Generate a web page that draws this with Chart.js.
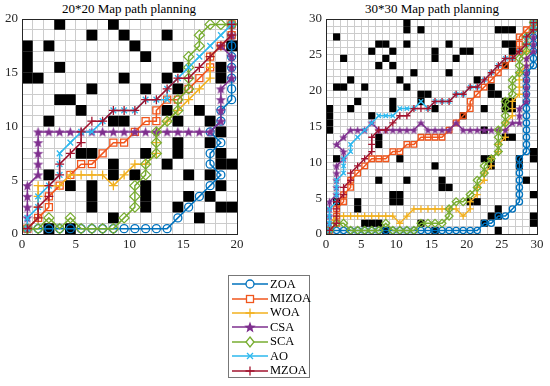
<!DOCTYPE html>
<html>
<head>
<meta charset="utf-8">
<script src="https://cdn.jsdelivr.net/npm/chart.js@4.4.1/dist/chart.umd.min.js"></script>
<style>
body{margin:0;background:#fff;width:550px;height:386px;position:relative;overflow:hidden;font-family:"Liberation Serif","Times New Roman",serif}
.ttl{position:absolute;top:1px;font-size:13px;color:#000;white-space:nowrap;transform:translateX(-50%)}
#c1{position:absolute;left:0;top:0}
#c2{position:absolute;left:296px;top:0}
#leg{position:absolute;left:228px;top:275px;width:82px;height:103px;border:1px solid #777;box-sizing:border-box;padding-top:1px;background:#fff}
.row{height:14.4px;display:flex;align-items:center;font-size:12.5px;color:#000}
.row canvas{margin-left:3px;margin-right:2px}
</style>
</head>
<body>
<div class="ttl" style="left:129px">20*20 Map path planning</div>
<div class="ttl" style="left:432px">30*30 Map path planning</div>
<canvas id="c1" width="250" height="256"></canvas>
<canvas id="c2" width="254" height="256"></canvas>
<div id="leg"></div>
<script>
// algorithms and colours
var names = ['ZOA', 'MIZOA', 'WOA', 'CSA', 'SCA', 'AO', 'MZOA'];
var colors = ['#0072BD', '#F0561D', '#F2B01E', '#7E2F8E', '#77AC30', '#2DB8EE', '#A2142F'];

// obstacle cells [col, row] (lower-left corner)
var cells20 = [[3,19],[8,19],[6,18],[9,18],[13,18],[0,17],[2,17],[10,17],[19,17],[0,16],[11,16],
  [0,15],[3,15],[14,15],[18,15],[0,14],[1,14],[9,14],[13,14],[18,14],[6,13],[11,13],[14,13],
  [3,12],[4,12],[5,11],[13,11],[16,11],[2,10],[8,10],[9,10],[14,10],[17,10],[18,9],[14,8],[17,8],
  [5,7],[6,7],[11,7],[14,7],[18,7],[8,6],[13,6],[18,6],[19,6],[2,5],[8,5],[10,5],[15,5],[17,5],
  [4,4],[6,4],[11,4],[18,4],[6,3],[11,3],[15,3],[17,3],[6,2],[11,2],[14,2],[18,2],[19,2],
  [8,1],[16,1],[2,0],[4,0]];

var cells30 = [[11,29],[11,28],[13,28],[24,28],[25,28],[26,28],[1,27],[7,26],[8,26],[11,26],[17,26],
  [25,26],[26,26],[6,25],[9,25],[15,25],[19,25],[20,25],[26,25],[2,24],[8,24],[15,24],[18,24],[25,23],
  [7,23],[9,23],[12,22],[17,22],[3,21],[10,21],[21,21],[1,20],[2,20],[5,20],[11,20],[23,20],[13,19],[14,19],
  [23,19],[24,19],[4,18],[9,18],[13,18],[25,18],[26,18],[0,17],[3,17],[9,17],[15,17],[22,17],
  [25,17],[26,17],[0,16],[6,16],[19,16],[0,15],[0,14],[22,14],[7,13],[25,13],[26,13],[7,12],
  [29,11],[1,10],[10,10],[22,10],[23,10],[27,10],[29,10],[15,9],[23,9],[27,9],[7,7],[11,7],[16,7],
  [28,7],[16,6],[17,6],[9,5],[10,5],[29,5],[1,4],[4,4],[9,4],[10,4],[20,4],[21,4],[4,3],[24,3],
  [23,2],[24,2],[29,2],[5,1],[6,1],[7,1],[13,1],[22,1],[29,1],[8,0],[15,0],[24,0]];

// paths on the 20*20 map
var zoa20 = [[0.5,0.5],[1.5,0.5],[2.5,0.5],[3.5,0.5],[4.5,0.5],[5.5,0.5],[6.5,0.5],[7.5,0.5],[8.5,0.5],
  [9.5,0.5],[10.5,0.5],[11.5,0.5],[12.5,0.5],[13.5,0.5],[14.5,1.5],[15.5,2.5],[16.5,3.5],[17.5,4.5],
  [18.5,5.5],[17.5,6.5],[17.5,7.5],[18.5,8.5],[17.5,9.5],[18.5,10.5],[18.5,11.5],[19.5,12.5],
  [19.5,13.5],[19.5,14.5],[19.5,15.5],[19.5,16.5],[19.5,17.5],[19.5,18.5],[19.5,19.5]];
var mizoa20 = [[0.5,0.5],[1.5,1.5],[2.5,2.5],[2.5,3.5],[3.5,4.5],[4.5,5.5],[5.5,6.5],[6.5,6.5],
  [7.5,7.5],[8.5,8.5],[9.5,8.5],[10.5,9.5],[11.5,10.5],[12.5,10.5],[12.5,11.5],[13.5,12.5],
  [14.5,12.5],[15.5,13.5],[16.5,14.5],[17.5,15.5],[17.5,16.5],[18.5,17.5],[19.5,18.5],[19.5,19.5]];
var woa20 = [[0.5,0.5],[1.5,1.5],[1.5,2.5],[1.5,3.5],[1.5,4.5],[2.5,4.5],[3.5,4.5],[4.5,5.5],
  [5.5,5.5],[6.5,5.5],[7.5,5.5],[8.5,4.5],[9.5,5.5],[10.5,6.5],[11.5,6.5],[12.5,7.5],[12.5,8.5],
  [12.5,9.5],[13.5,10.5],[14.5,11.5],[15.5,12.5],[16.5,13.5],[17.5,14.5],[17.5,15.5],[17.5,16.5],
  [18.5,17.5],[19.5,18.5],[19.5,19.5]];
var csa20 = [[0.5,0.5],[0.5,1.5],[0.5,2.5],[0.5,3.5],[0.5,4.5],[1.5,5.5],[1.5,6.5],[1.5,7.5],
  [1.5,8.5],[1.5,9.5],[2.5,9.5],[3.5,9.5],[4.5,9.5],[5.5,9.5],[6.5,9.5],[7.5,9.5],[8.5,9.5],
  [9.5,9.5],[10.5,9.5],[11.5,9.5],[12.5,9.5],[13.5,9.5],[14.5,9.5],[15.5,9.5],[16.5,9.5],
  [17.5,9.5],[18.5,10.5],[18.5,11.5],[18.5,12.5],[18.5,13.5],[19.5,14.5],[19.5,15.5],[19.5,16.5],
  [18.5,17.5],[19.5,18.5],[19.5,19.5]];
var sca20 = [[0.5,0.5],[1.5,0.5],[2.5,1.5],[3.5,0.5],[4.5,1.5],[5.5,0.5],[6.5,0.5],[7.5,0.5],
  [8.5,0.5],[9.5,1.5],[10.5,2.5],[10.5,3.5],[10.5,4.5],[11.5,5.5],[11.5,6.5],[12.5,7.5],[12.5,8.5],
  [12.5,9.5],[13.5,10.5],[14.5,11.5],[14.5,12.5],[15.5,13.5],[15.5,14.5],[15.5,15.5],[15.5,16.5],
  [16.5,17.5],[16.5,18.5],[17.5,19.5],[18.5,19.5],[19.5,19.5]];
var ao20 = [[0.5,0.5],[0.5,1.5],[1.5,2.5],[1.5,3.5],[2.5,4.5],[3.5,5.5],[3.5,6.5],[3.5,7.5],
  [4.5,8.5],[5.5,9.5],[6.5,9.5],[7.5,10.5],[8.5,11.5],[9.5,11.5],[10.5,11.5],[11.5,12.5],
  [12.5,12.5],[13.5,12.5],[13.5,13.5],[14.5,14.5],[15.5,15.5],[16.5,16.5],[17.5,17.5],[18.5,18.5],
  [19.5,19.5]];
var mzoa20 = [[0.5,0.5],[1.5,1.5],[1.5,2.5],[2.5,3.5],[2.5,4.5],[3.5,5.5],[3.5,6.5],[4.5,7.5],
  [5.5,8.5],[5.5,9.5],[6.5,10.5],[7.5,10.5],[8.5,11.5],[9.5,11.5],[10.5,11.5],[11.5,12.5],
  [12.5,12.5],[13.5,13.5],[14.5,14.5],[15.5,14.5],[16.5,15.5],[17.5,16.5],[18.5,17.5],[19.5,18.5],
  [19.5,19.5]];

// paths on the 30*30 map
var zoa30 = [[0.5,0.5],[1.5,0.5],[2.5,0.5],[3.5,0.5],[4.5,0.5],[5.5,0.5],[6.5,0.5],[7.5,0.5],[8.5,0.5],
  [9.5,0.5],[10.5,0.5],[11.5,0.5],[12.5,0.5],[13.5,0.5],[14.5,0.5],[15.5,0.5],[16.5,0.5],[17.5,0.5],
  [18.5,0.5],[19.5,0.5],[20.5,0.5],[21.5,0.5],[22.5,1.5],[23.5,1.5],[24.5,2.5],[25.5,2.5],[26.5,3.5],
  [27.5,4.5],[27.5,5.5],[27.5,6.5],[27.5,7.5],[27.5,8.5],[27.5,9.5],[27.5,10.5],[28.5,11.5],
  [28.5,12.5],[28.5,13.5],[28.5,14.5],[28.5,15.5],[28.5,16.5],[28.5,17.5],[28.5,18.5],[28.5,19.5],
  [28.5,20.5],[28.5,21.5],[28.5,22.5],[29.5,23.5],[29.5,24.5],[29.5,25.5],[29.5,26.5],[29.5,27.5],
  [29.5,28.5],[29.5,29.5]];
var mizoa30 = [[0.5,0.5],[1.5,1.5],[1.5,2.5],[1.5,3.5],[2.5,4.5],[2.5,5.5],[3.5,6.5],[3.5,7.5],
  [4.5,8.5],[5.5,9.5],[6.5,10.5],[7.5,10.5],[8.5,10.5],[9.5,11.5],[10.5,11.5],[11.5,12.5],
  [12.5,12.5],[13.5,13.5],[14.5,13.5],[15.5,13.5],[16.5,13.5],[17.5,14.5],[18.5,15.5],[19.5,16.5],
  [20.5,17.5],[20.5,18.5],[21.5,19.5],[22.5,20.5],[23.5,21.5],[24.5,22.5],[25.5,23.5],[26.5,24.5],
  [27.5,25.5],[27.5,26.5],[27.5,27.5],[28.5,28.5],[29.5,29.5]];
var woa30 = [[0.5,0.5],[0.5,1.5],[1.5,2.5],[2.5,2.5],[3.5,2.5],[4.5,2.5],[5.5,2.5],[6.5,2.5],
  [7.5,2.5],[8.5,2.5],[9.5,2.5],[10.5,1.5],[11.5,2.5],[12.5,3.5],[13.5,3.5],[14.5,3.5],[15.5,3.5],
  [16.5,3.5],[17.5,3.5],[18.5,3.5],[19.5,2.5],[20.5,3.5],[20.5,4.5],[21.5,5.5],[21.5,6.5],
  [22.5,7.5],[22.5,8.5],[23.5,9.5],[23.5,10.5],[24.5,11.5],[24.5,12.5],[25.5,13.5],[25.5,14.5],
  [25.5,15.5],[26.5,16.5],[26.5,17.5],[26.5,18.5],[27.5,19.5],[27.5,20.5],[27.5,21.5],[27.5,22.5],
  [28.5,23.5],[28.5,24.5],[28.5,25.5],[28.5,26.5],[28.5,27.5],[29.5,28.5],[29.5,29.5]];
var csa30 = [[0.5,0.5],[0.5,1.5],[0.5,2.5],[0.5,3.5],[0.5,4.5],[1.5,5.5],[1.5,6.5],[1.5,7.5],
  [1.5,8.5],[1.5,9.5],[2.5,10.5],[2.5,11.5],[1.5,12.5],[2.5,13.5],[3.5,14.5],[4.5,14.5],[5.5,14.5],
  [6.5,15.5],[7.5,14.5],[8.5,14.5],[9.5,14.5],[10.5,14.5],[11.5,14.5],[12.5,14.5],[13.5,15.5],
  [14.5,14.5],[15.5,14.5],[16.5,14.5],[17.5,14.5],[18.5,15.5],[19.5,14.5],[20.5,14.5],[21.5,14.5],
  [22.5,14.5],[23.5,14.5],[24.5,14.5],[25.5,14.5],[26.5,15.5],[27.5,15.5],[27.5,16.5],[27.5,17.5],
  [28.5,18.5],[28.5,19.5],[28.5,20.5],[28.5,21.5],[28.5,22.5],[28.5,23.5],[28.5,24.5],[29.5,25.5],
  [29.5,26.5],[29.5,27.5],[29.5,28.5],[29.5,29.5]];
var sca30 = [[0.5,0.5],[1.5,1.5],[2.5,1.5],[3.5,0.5],[4.5,0.5],[5.5,0.5],[6.5,0.5],[7.5,0.5],
  [8.5,1.5],[9.5,0.5],[10.5,0.5],[11.5,0.5],[12.5,0.5],[13.5,1.5],[14.5,1.5],[15.5,1.5],[16.5,1.5],
  [17.5,2.5],[17.5,3.5],[18.5,4.5],[19.5,4.5],[20.5,5.5],[21.5,6.5],[21.5,7.5],[22.5,8.5],[22.5,9.5],
  [23.5,10.5],[24.5,11.5],[24.5,12.5],[24.5,13.5],[24.5,14.5],[25.5,15.5],[25.5,16.5],[25.5,17.5],
  [25.5,18.5],[26.5,19.5],[26.5,20.5],[26.5,21.5],[27.5,22.5],[27.5,23.5],[27.5,24.5],[28.5,25.5],
  [28.5,26.5],[28.5,27.5],[29.5,28.5],[29.5,29.5]];
var ao30 = [[0.5,0.5],[0.5,1.5],[0.5,2.5],[0.5,3.5],[1.5,4.5],[1.5,5.5],[1.5,6.5],[1.5,7.5],
  [2.5,8.5],[2.5,9.5],[2.5,10.5],[3.5,11.5],[3.5,12.5],[4.5,13.5],[5.5,14.5],[6.5,15.5],[7.5,16.5],
  [8.5,16.5],[9.5,16.5],[10.5,17.5],[11.5,17.5],[12.5,17.5],[13.5,18.5],[14.5,17.5],[15.5,18.5],
  [16.5,18.5],[17.5,18.5],[18.5,19.5],[19.5,19.5],[20.5,20.5],[21.5,20.5],[22.5,21.5],[23.5,22.5],
  [24.5,23.5],[25.5,24.5],[26.5,24.5],[27.5,25.5],[28.5,26.5],[28.5,27.5],[29.5,28.5],[29.5,29.5]];
var mzoa30 = [[0.5,0.5],[1.5,1.5],[1.5,2.5],[1.5,3.5],[1.5,4.5],[2.5,5.5],[2.5,6.5],[3.5,7.5],
  [3.5,8.5],[4.5,9.5],[5.5,10.5],[6.5,11.5],[6.5,12.5],[6.5,13.5],[7.5,14.5],[8.5,14.5],[9.5,15.5],
  [10.5,16.5],[11.5,16.5],[12.5,17.5],[13.5,17.5],[14.5,17.5],[15.5,18.5],[16.5,18.5],[17.5,18.5],
  [18.5,19.5],[19.5,19.5],[20.5,20.5],[21.5,20.5],[22.5,21.5],[23.5,22.5],[24.5,23.5],[25.5,24.5],
  [26.5,24.5],[27.5,25.5],[28.5,26.5],[28.5,27.5],[29.5,28.5],[29.5,29.5]];

var paths20 = [zoa20, mizoa20, woa20, csa20, sca20, ao20, mzoa20];
var paths30 = [zoa30, mizoa30, woa30, csa30, sca30, ao30, mzoa30];

function makeStar(size, color) {
  var c = document.createElement('canvas');
  c.width = size; c.height = size;
  var g = c.getContext('2d');
  var R = size / 2, r = R * 0.42, off = R * 0.1;
  g.beginPath();
  for (var i = 0; i < 10; i++) {
    var a = -Math.PI / 2 + i * Math.PI / 5;
    var rr = i % 2 ? r : R;
    g.lineTo(R + rr * Math.cos(a), R + off + rr * Math.sin(a));
  }
  g.closePath();
  g.fillStyle = color;
  g.fill();
  return c;
}

var mapPlugin = {
  id: 'mapPlugin',
  beforeDatasetsDraw: function(chart, args, opts) {
    var ctx = chart.ctx, x = chart.scales.x, y = chart.scales.y;
    ctx.save();
    ctx.fillStyle = '#000';
    opts.cells.forEach(function(cl) {
      var x0 = x.getPixelForValue(cl[0]), x1 = x.getPixelForValue(cl[0] + 1);
      var y0 = y.getPixelForValue(cl[1] + 1), y1 = y.getPixelForValue(cl[1]);
      ctx.fillRect(x0, y0, x1 - x0, y1 - y0);
    });
    ctx.restore();
  },
  afterDraw: function(chart) {
    var a = chart.chartArea, ctx = chart.ctx;
    ctx.save();
    ctx.strokeStyle = '#262626';
    ctx.lineWidth = 1;
    ctx.strokeRect(Math.round(a.left) + 0.5, Math.round(a.top) + 0.5,
      Math.round(a.right - a.left), Math.round(a.bottom - a.top));
    ctx.restore();
  }
};

function makeMap(id, n, cells, paths, sc, yw, padR) {
  var star = makeStar(Math.round(11 * sc), colors[3]);
  var styles = [
    {pointStyle: 'circle', pointRadius: 4 * sc},
    {pointStyle: 'rect', pointRadius: 5 * sc},
    {pointStyle: 'cross', pointRadius: 4.5 * sc},
    {pointStyle: star, pointRadius: 5 * sc},
    {pointStyle: 'rectRot', pointRadius: 5 * sc},
    {pointStyle: 'crossRot', pointRadius: 4 * sc},
    {pointStyle: 'cross', pointRadius: 4.5 * sc}
  ];
  var datasets = paths.map(function(p, i) {
    return {
      label: names[i],
      data: p.map(function(q) { return {x: q[0], y: q[1]}; }),
      showLine: true,
      borderColor: colors[i],
      backgroundColor: 'rgba(0,0,0,0)',
      borderWidth: 1.5,
      pointBorderWidth: 1.3,
      pointStyle: styles[i].pointStyle,
      pointRadius: styles[i].pointRadius,
      order: 7 - i
    };
  });
  var tickFont = {family: '"Liberation Serif", "Times New Roman", serif', size: 13};
  return new Chart(document.getElementById(id), {
    type: 'scatter',
    data: {datasets: datasets},
    options: {
      responsive: false,
      animation: false,
      layout: {padding: {top: 19, right: padR, left: 0, bottom: 0}},
      plugins: {legend: {display: false}, tooltip: {enabled: false}, mapPlugin: {cells: cells}},
      scales: {
        x: {
          type: 'linear', min: 0, max: n,
          afterFit: function(s) { s.height = 22; },
          ticks: {stepSize: 1, autoSkip: false, maxRotation: 0, color: '#262626', font: tickFont, padding: 3,
            callback: function(v) { return v % 5 === 0 ? v : ''; }},
          grid: {color: '#cccccc', drawTicks: false},
          border: {display: false}
        },
        y: {
          type: 'linear', min: 0, max: n,
          afterFit: function(s) { s.width = yw; },
          ticks: {stepSize: 1, autoSkip: false, color: '#262626', font: tickFont, padding: 4,
            callback: function(v) { return v % 5 === 0 ? v : ''; }},
          grid: {color: '#cccccc', drawTicks: false},
          border: {display: false}
        }
      }
    },
    plugins: [mapPlugin]
  });
}

makeMap('c1', 20, cells20, paths20, 1, 22, 13);
makeMap('c2', 30, cells30, paths30, 0.78, 30, 13);

// legend
function drawIcon(g, i) {
  var col = colors[i];
  g.strokeStyle = col; g.fillStyle = col; g.lineWidth = 1.5;
  g.beginPath(); g.moveTo(0, 7); g.lineTo(36, 7); g.stroke();
  var cx = 18, cy = 7;
  g.lineWidth = 1.3;
  g.beginPath();
  if (i === 0) { g.arc(cx, cy, 4, 0, Math.PI * 2); g.fillStyle = '#fff'; g.fill(); g.stroke(); }
  else if (i === 1) { g.fillStyle = '#fff'; g.fillRect(cx - 3.5, cy - 3.5, 7, 7); g.strokeRect(cx - 3.5, cy - 3.5, 7, 7); }
  else if (i === 2 || i === 6) { g.moveTo(cx - 4.5, cy); g.lineTo(cx + 4.5, cy); g.moveTo(cx, cy - 4.5); g.lineTo(cx, cy + 4.5); g.stroke(); }
  else if (i === 3) { g.drawImage(makeStar(12, col), cx - 6, cy - 6); }
  else if (i === 4) { g.moveTo(cx, cy - 5); g.lineTo(cx + 4, cy); g.lineTo(cx, cy + 5); g.lineTo(cx - 4, cy); g.closePath(); g.fillStyle = '#fff'; g.fill(); g.stroke(); }
  else if (i === 5) { g.moveTo(cx - 3, cy - 3); g.lineTo(cx + 3, cy + 3); g.moveTo(cx + 3, cy - 3); g.lineTo(cx - 3, cy + 3); g.stroke(); }
}
var leg = document.getElementById('leg');
names.forEach(function(nm, i) {
  var row = document.createElement('div');
  row.className = 'row';
  var cv = document.createElement('canvas');
  cv.width = 36; cv.height = 14;
  drawIcon(cv.getContext('2d'), i);
  row.appendChild(cv);
  var sp = document.createElement('span');
  sp.textContent = nm;
  row.appendChild(sp);
  leg.appendChild(row);
});
</script>
</body>
</html>
